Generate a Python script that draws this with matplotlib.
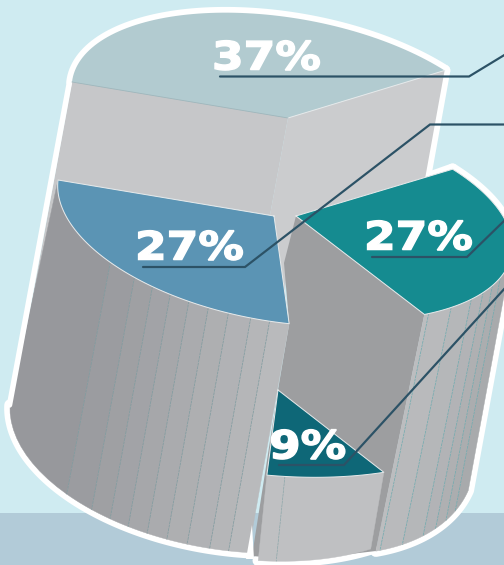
import numpy as np
import matplotlib
matplotlib.use('Agg')
import matplotlib.pyplot as plt
from matplotlib.patheffects import AbstractPathEffect
from matplotlib.transforms import Affine2D

# Pie values, clockwise from the left edge of the top slice
shares = [37, 27, 9, 27]
slice_colors = ['#b2cbd0', '#158b90', '#0e6777', '#5b94b4']

# Screen layout, one entry per slice: apex, then the two axes of the tilted circle
apex = [(288, 118), (296, 216), (278, 390), (274, 216)]
axis_a = [(-216, -36), (-216, -36), (-212, -30), (-216, -36)]
axis_b = [(12, -99), (12, -98), (38, -82), (12, -104)]

# Same thing for the bottom rims
BOTTOM_TEAL = dict(c=(279, 417), a=(-193, -63), b=(34, -122))
BOTTOM_SMALL = dict(c=(237, 441), a=(-217, -28), b=(6, -117))
BOTTOM_BLUE = dict(c=(227, 433), a=(-217, -28), b=(6, -117))

# Where the facet seams sit on the outer walls (degrees)
blue_seams = [316, 307, 301, 295.5, 290, 284.5, 279, 273, 268]
small_seams = [258]

# Left end and baseline of each percentage
label_pos = [(212, 69.5), (364, 249.5), (269, 458.5), (135, 259.5)]

# Leader lines
leaders = [
    [(220, 76.5), (469, 76.5), (506, 54)],
    [(372, 257), (467, 257), (506, 219)],
    [(279, 465), (344, 465), (506, 287)],
    [(143, 267), (245, 267), (430, 124.5), (506, 124.5)],
]

BG = '#cfebf1'
FLOOR = '#b2cbd8'
WALL_LEFT = '#c6c7c9'
WALL_RIGHT = '#cbccce'
WALL_INNER = '#9d9ea0'
LEADER = '#2c5266'
PX = 0.72  # one pixel in points at dpi 100


class WideText(AbstractPathEffect):
    """Stretch glyph outlines sideways and fatten them for an extended bold look"""

    def __init__(self, factor, weight):
        super().__init__()
        self.factor = factor
        self.weight = weight

    def draw_path(self, renderer, gc, tpath, affine, rgbFace=None):
        gc0 = renderer.new_gc()
        gc0.copy_properties(gc)
        gc0.set_linewidth(self.weight)
        gc0.set_foreground(rgbFace)
        gc0.set_joinstyle('miter')
        renderer.draw_path(gc0, tpath, Affine2D().scale(self.factor, 1) + affine, rgbFace)
        gc0.restore()


def arc(c, a, b, t0, t1, n=80):
    t = np.radians(np.linspace(t0, t1, n))
    c, a, b = np.array(c), np.array(a), np.array(b)
    return c + np.outer(np.cos(t), a) + np.outer(np.sin(t), b)


def blend(c0, c1, f):
    c0 = np.array(matplotlib.colors.to_rgb(c0))
    c1 = np.array(matplotlib.colors.to_rgb(c1))
    return tuple(c0 + (c1 - c0) * f)


def facets(ax, top, bottom, edges, col0, col1, seam_color, top_edges=None):
    """Outer wall as a row of flat facets between a top arc and a bottom arc"""
    top_edges = edges if top_edges is None else top_edges
    n = len(edges) - 1
    for i in range(n):
        upper = arc(*top, top_edges[i], top_edges[i + 1], 12)
        lower = arc(bottom['c'], bottom['a'], bottom['b'], edges[i], edges[i + 1], 12)
        pts = np.vstack([upper, lower[::-1]])
        col = blend(col0, col1, i / max(n - 1, 1))
        ax.fill(pts[:, 0], pts[:, 1], facecolor=col, edgecolor=col, lw=0.3, zorder=4)
    for i in range(1, n):
        p = arc(*top, top_edges[i], top_edges[i], 1)[0]
        q = arc(bottom['c'], bottom['a'], bottom['b'], edges[i], edges[i], 1)[0]
        ax.plot([p[0], q[0]], [p[1], q[1]], color=seam_color, lw=0.7 * PX,
                ls=(0, (4, 1)), zorder=5)


fig = plt.figure(figsize=(5.04, 5.65), dpi=100)
ax = fig.add_axes([0, 0, 1, 1])
ax.set_xlim(0, 504)
ax.set_ylim(565, 0)
ax.axis('off')

ax.fill([0, 504, 504, 0], [0, 0, 565, 565], color=BG, lw=0, zorder=0)
ax.fill([0, 504, 504, 0], [513, 513, 565, 565], color=FLOOR, lw=0, zorder=0)

# Slice boundaries in degrees
edges = np.concatenate([[0], np.cumsum(shares)]) * 360 / sum(shares)
basis = [(apex[i], axis_a[i], axis_b[i]) for i in range(4)]
top_arc = [arc(*basis[i], edges[i], edges[i + 1]) for i in range(4)]


def corner(i, t):
    return arc(*basis[i], t, t, 1)[0]


# White outline, stroked wide so the fills above leave only the outer half
white = dict(color='white', lw=11.5 * PX, solid_capstyle='round', solid_joinstyle='round', zorder=1)
ax.plot(top_arc[0][:, 0], top_arc[0][:, 1], **white)
p_right = corner(0, edges[1])
p_teal = corner(1, edges[1])
ax.plot([p_right[0], 425, p_teal[0]], [p_right[1], 179, p_teal[1]], **white)
teal_rim = arc(*basis[1], edges[1], 180)
ax.plot(teal_rim[:, 0], teal_rim[:, 1], **white)
teal_low = arc(BOTTOM_TEAL['c'], BOTTOM_TEAL['a'], BOTTOM_TEAL['b'], 185, edges[2])
ax.plot(np.r_[teal_rim[-1, 0], teal_low[:, 0]], np.r_[teal_rim[-1, 1], teal_low[:, 1]], **white)
small_low = arc(BOTTOM_SMALL['c'], BOTTOM_SMALL['a'], BOTTOM_SMALL['b'], edges[2], edges[3])
ax.plot(small_low[:, 0], small_low[:, 1], **white)
blue_low = arc(BOTTOM_BLUE['c'], BOTTOM_BLUE['a'], BOTTOM_BLUE['b'], edges[3], 360)
ax.plot(blue_low[:, 0], blue_low[:, 1], **white)
ax.plot([69.5, 9.5], [82, 405], color='white', lw=5.5 * PX, solid_capstyle='round', zorder=6)

# Cut faces of the big slice behind everything else
left_tip = corner(0, 0)
blue_tip = corner(3, 360)
ax.fill([left_tip[0], apex[0][0], 270, blue_tip[0], 13],
        [left_tip[1], apex[0][1], 215, blue_tip[1], 405], color=WALL_LEFT, lw=0, zorder=2)
ax.fill([apex[0][0], p_right[0], 425, 290, 284, 274, 270],
        [apex[0][1], p_right[1], 179, 240, 300, 216, 215], color=WALL_RIGHT, lw=0, zorder=2)

# Dark cut face of the teal slice, running down behind the small slice
teal_end = corner(1, edges[2])
blue_end = corner(3, edges[3])
ax.fill([apex[1][0], teal_end[0], 376, 300, 252, apex[2][0], blue_end[0], 284],
        [apex[1][1], teal_end[1], 551, 560, 556, apex[2][1], blue_end[1], 263],
        color=WALL_INNER, lw=0, zorder=3)

# Outer walls
teal_edges_low = [185, 196, 201.6, 207, 212.7, 221, 229, edges[2]]
teal_edges_top = [180, 196, 201.6, 207, 212.7, 221, 229, edges[2]]
facets(ax, basis[1], BOTTOM_TEAL, teal_edges_low, '#a8aaac', '#bcbdbf', '#6fa9ad', teal_edges_top)
facets(ax, basis[2], BOTTOM_SMALL, [edges[2], small_seams[0], edges[3]], '#bfc0c2', '#bfc0c2', '#8fa9ac')
blue_edges = [edges[3]] + blue_seams[::-1] + [360]
facets(ax, basis[3], BOTTOM_BLUE, blue_edges, '#b9babc', '#97989c', '#7f9a9e')

# Small white gap where the blue wall meets the small slice
ax.fill([246, 254, 252], [559, 559, 525], color='white', lw=0, zorder=6)

# Slice tops
for i in range(4):
    pts = np.vstack([apex[i], top_arc[i], apex[i]])
    ax.fill(pts[:, 0], pts[:, 1], facecolor=slice_colors[i], edgecolor='none', zorder=7)
    if i > 0:
        ax.plot(pts[:, 0], pts[:, 1], color='#e6e9ea', lw=1.0 * PX, zorder=7)
ax.plot([apex[0][0], p_right[0]], [apex[0][1], p_right[1]], color='#e6e9ea', lw=1.0 * PX, zorder=7)
ax.plot([left_tip[0], apex[0][0]], [left_tip[1], apex[0][1]], color='#9db4b9', lw=0.8 * PX, zorder=7)

for line in leaders:
    xs, ys = zip(*line)
    ax.plot(xs, ys, color=LEADER, lw=2.2 * PX, solid_capstyle='round', solid_joinstyle='miter', zorder=8)

for (x, y), v in zip(label_pos, shares):
    ax.text(x, y, f'{v}%', color='white', fontsize=28, fontweight='bold',
            family='DejaVu Sans', ha='left', va='baseline', zorder=9,
            path_effects=[WideText(1.17, 1.1)])

fig.savefig('out.png', dpi=100)
